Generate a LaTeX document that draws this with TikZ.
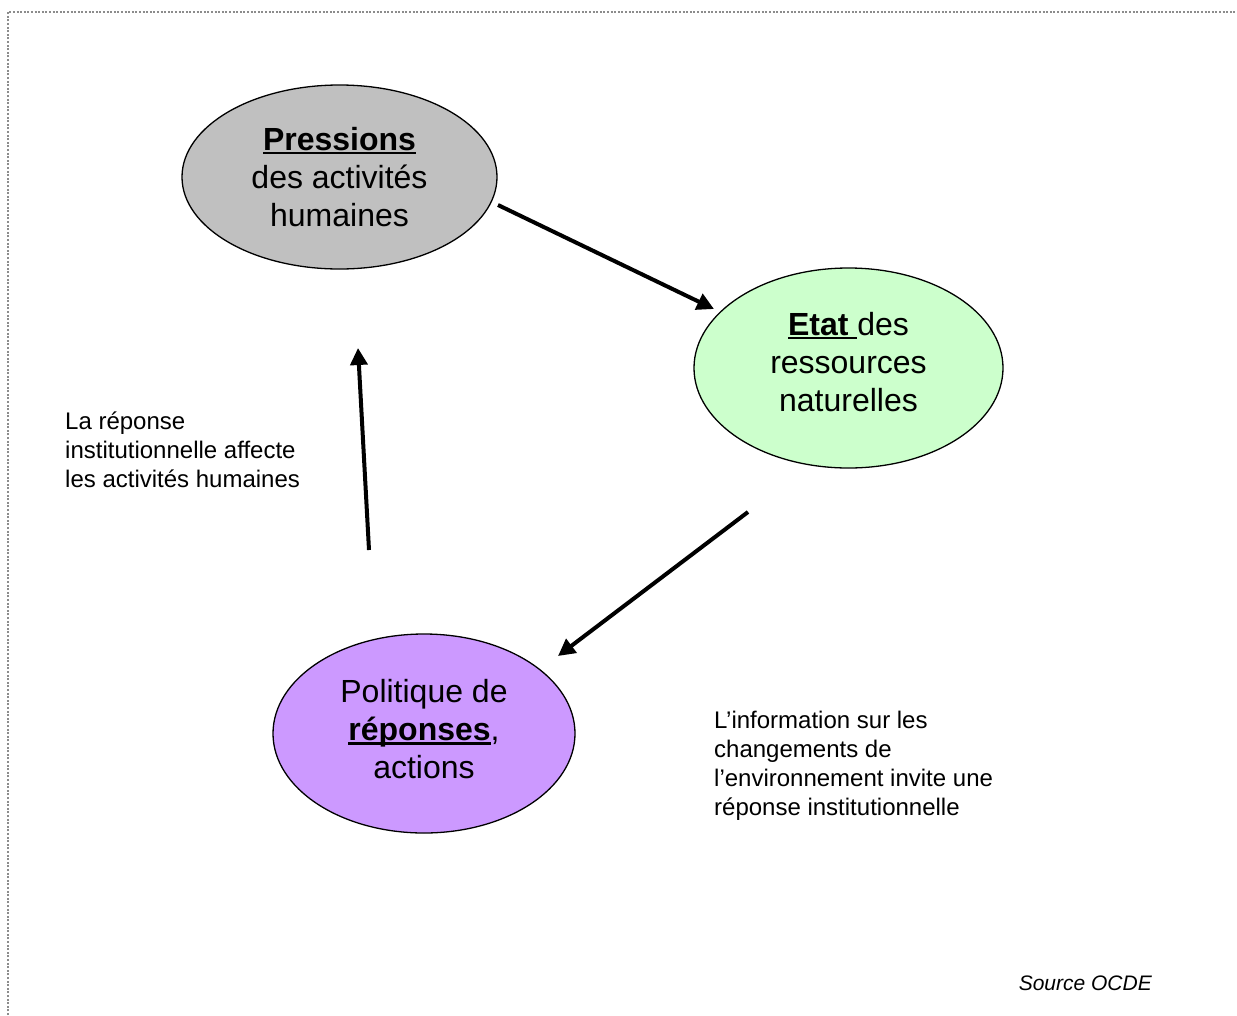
\documentclass[tikz,border=0pt]{standalone}
\usepackage{fontspec}
\setmainfont{Liberation Sans}
\usetikzlibrary{shapes.geometric,arrows.meta}
\newcommand\thickul[1]{\leavevmode\setbox0\hbox{#1}\rlap{\rule[-4pt]{\wd0}{2.6pt}}\box0}
\definecolor{pgray}{HTML}{C0C0C0}
\definecolor{pgreen}{HTML}{CCFFCC}
\definecolor{ppurple}{HTML}{CC99FF}
\definecolor{frameg}{HTML}{8C8C8C}
\tikzset{
  bubble/.style={ellipse,draw=black,line width=1.3pt,inner sep=0pt,align=center,
    font=\fontsize{32}{38}\selectfont},
  bubbletext/.style={inner sep=0pt,align=center,font=\fontsize{32}{38}\selectfont},
  bigarrow/.style={line width=4pt,-{Triangle[length=17pt,width=17pt]}},
  note/.style={inner sep=0pt,align=left,font=\fontsize{24}{29}\selectfont},
}
\begin{document}
\begin{tikzpicture}[x=1pt,y=-1pt]
\useasboundingbox (0,0) rectangle (1237,1015);
\draw[frameg,line width=2pt,dash pattern=on 2pt off 1.6pt] (8,1015) -- (8,12) -- (1237,12);

\node[bubble,fill=pgray,minimum width=315pt,minimum height=184pt] (press) at (339.5,177)
  {\thickul{\textbf{Pressions}}\\des activités\\humaines};
\node[bubble,fill=pgreen,minimum width=309pt,minimum height=200pt] (etat) at (848.5,368) {};
\node[bubbletext] (etattxt) at (848.5,362)
  {\thickul{\textbf{Etat}\ }des\\ressources\\naturelles};
\node[bubble,fill=ppurple,minimum width=302pt,minimum height=199pt] (polit) at (424,733.5) {};
\node[bubbletext] (polittxt) at (424,729.5)
  {Politique de\\\thickul{\textbf{réponses}},\\actions};

\coordinate (a1s) at (498,205);
\coordinate (a1e) at (714,309);
\coordinate (a2s) at (748,512);
\coordinate (a2e) at (558,656);
\coordinate (a3s) at (369,550);
\coordinate (a3e) at (358,348);
\draw[bigarrow] (a1s) -- (a1e);
\draw[bigarrow] (a2s) -- (a2e);
\draw[bigarrow] (a3s) -- (a3e);

\node[note,anchor=north west] (n1) at (65,412)
  {La réponse\\institutionnelle affecte\\les activités humaines};
\node[note,anchor=north west] (n2) at (714,711)
  {L’information sur les\\changements de\\l’environnement invite une\\réponse institutionnelle};
\node[inner sep=0pt,anchor=base east,font=\fontsize{21}{25}\selectfont\itshape] (src) at (1152,990) {Source OCDE};
\end{tikzpicture}
\end{document}
